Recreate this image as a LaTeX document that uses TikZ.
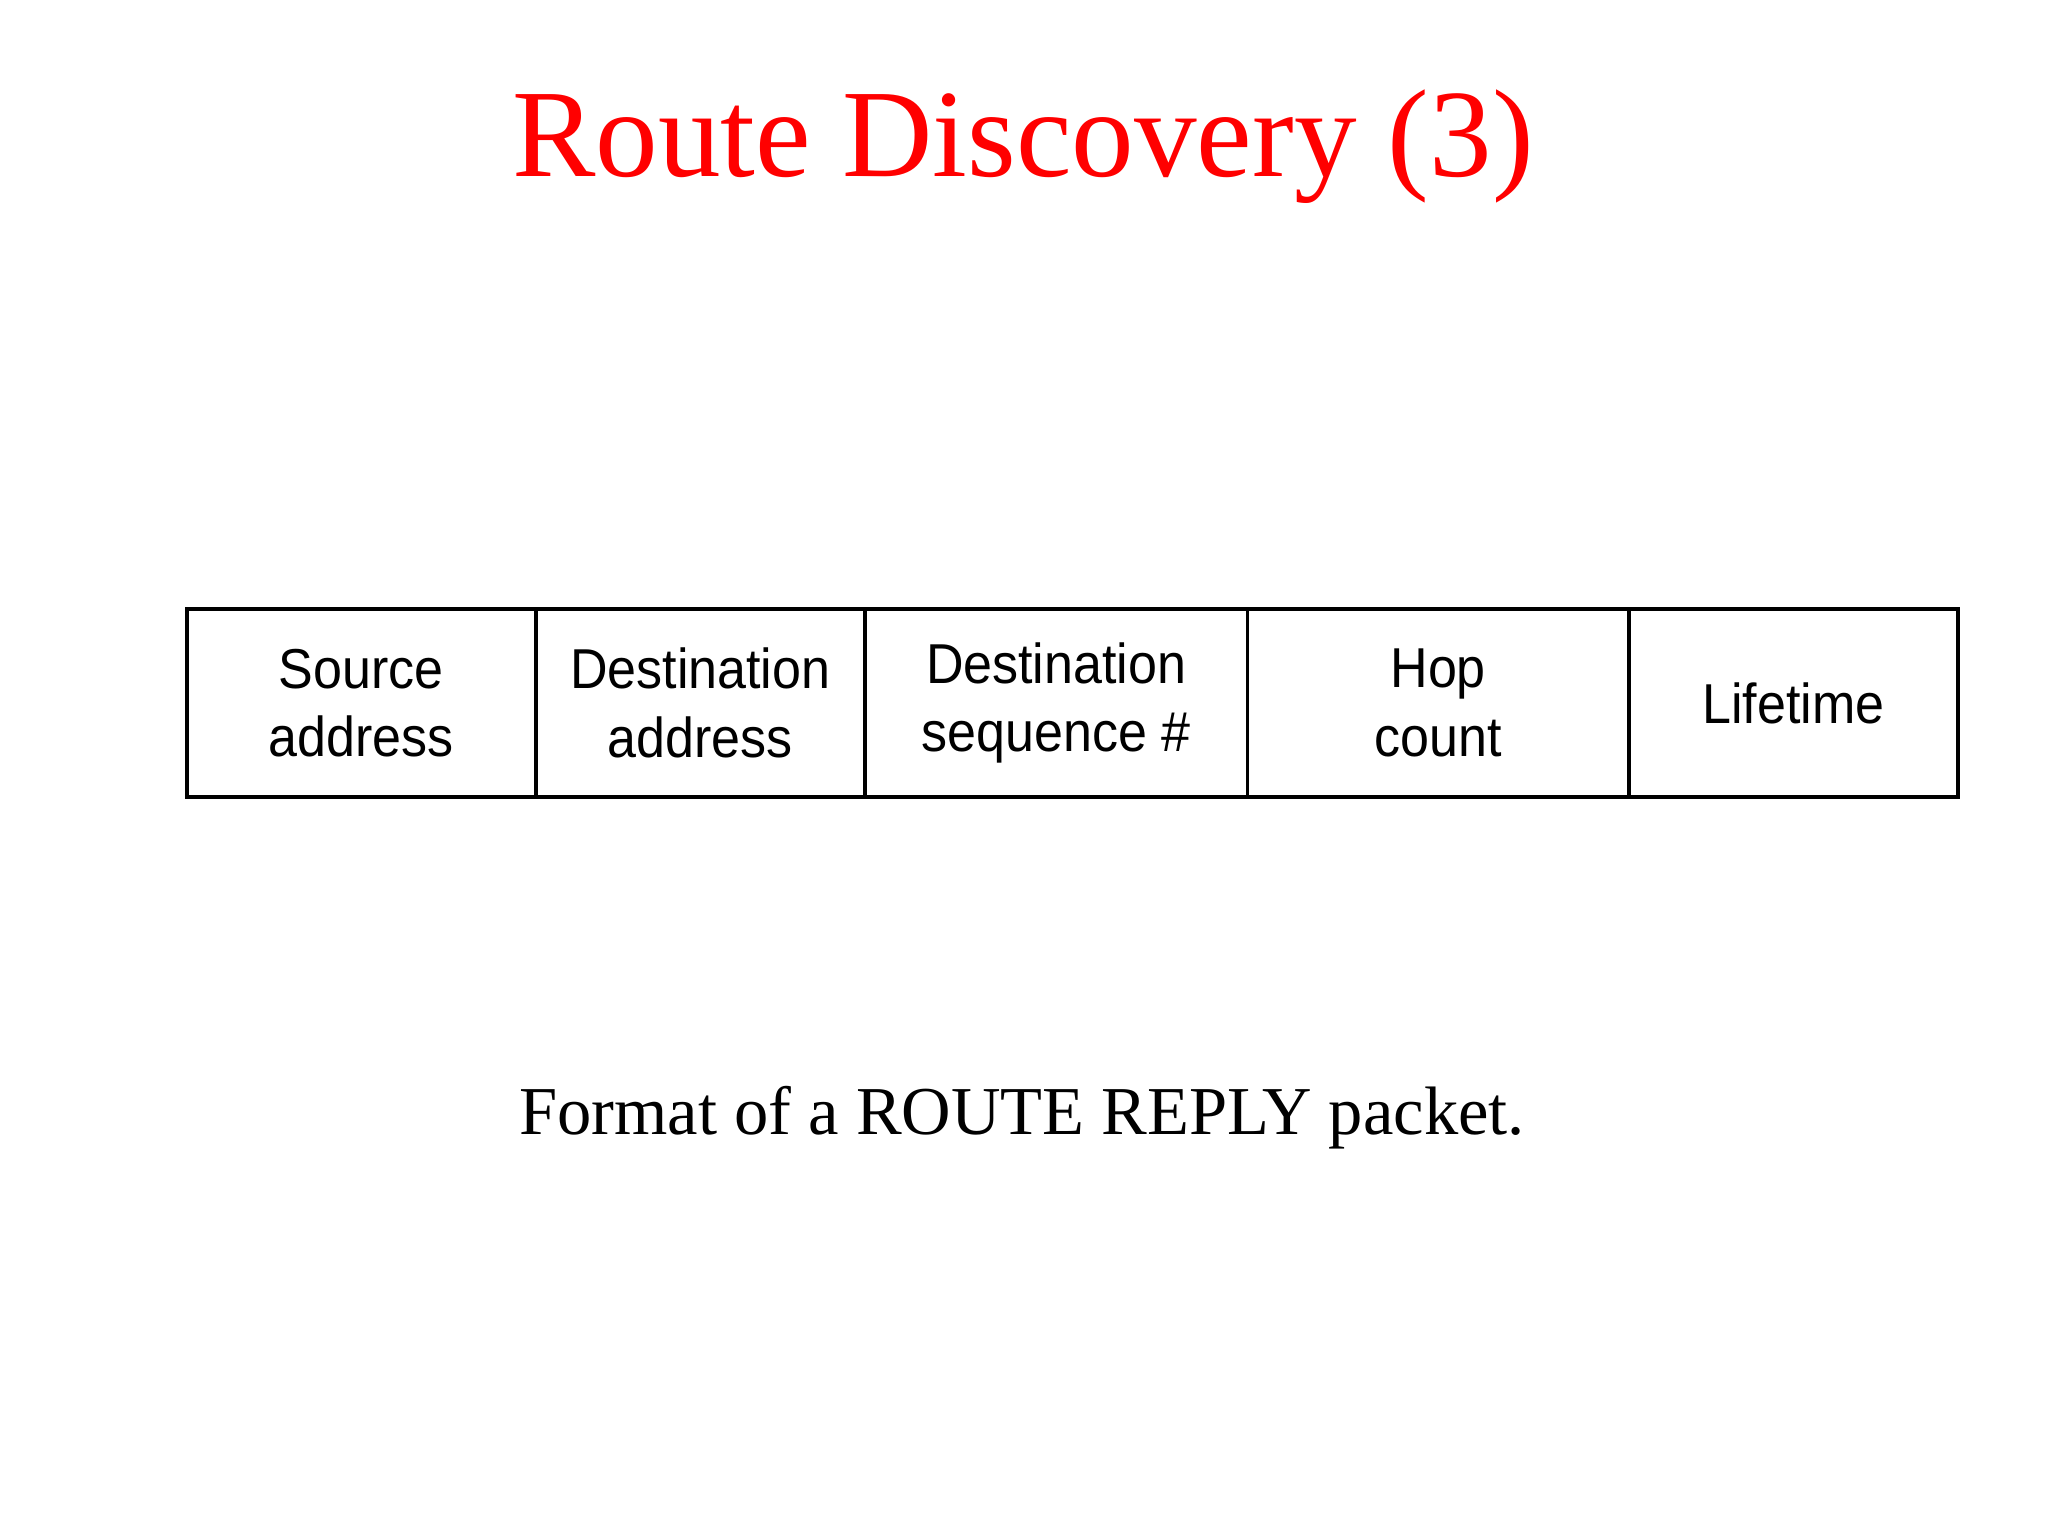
\documentclass[tikz,border=0pt]{standalone}
\usepackage{fontspec}
\setmainfont{Liberation Serif}
\newfontfamily\fieldfont[FakeStretch=0.925]{Liberation Sans}
\usepackage{tikz}
\usetikzlibrary{positioning}
\definecolor{titlered}{RGB}{255,0,0}

\begin{document}
\begin{tikzpicture}[x=0.1mm,y=-0.1mm, every node/.style={align=center},
  field/.style={draw=black, line width=1.1pt, minimum height=18.8mm, inner sep=0pt, outer sep=0pt,
    font=\fieldfont\fontsize{16}{19.5}\selectfont}]
  \useasboundingbox (0,0) rectangle (2048,1536);
  \node[text=titlered, font=\fontsize{35.6}{40}\selectfont, anchor=base] (title) at (1023,176) {Route Discovery (3)};

  % packet fields
  \node[field, minimum width=34.87mm, anchor=north west] (src) at (187,609) {Source\\address};
  \node[field, minimum width=32.91mm, right=0pt of src] (dst) {Destination\\address};
  \node[field, minimum width=38.27mm, right=0pt of dst] (seq) {Destination\\sequence \#};
  \node[field, minimum width=38.13mm, right=0pt of seq] (hop) {Hop\\count};
  \node[field, minimum width=32.92mm, right=0pt of hop] (life) {Lifetime};

  \node[font=\fontsize{19.5}{23}\selectfont, anchor=base] (caption) at (1022,1134) {Format of a ROUTE REPLY packet.};
\end{tikzpicture}
\end{document}
